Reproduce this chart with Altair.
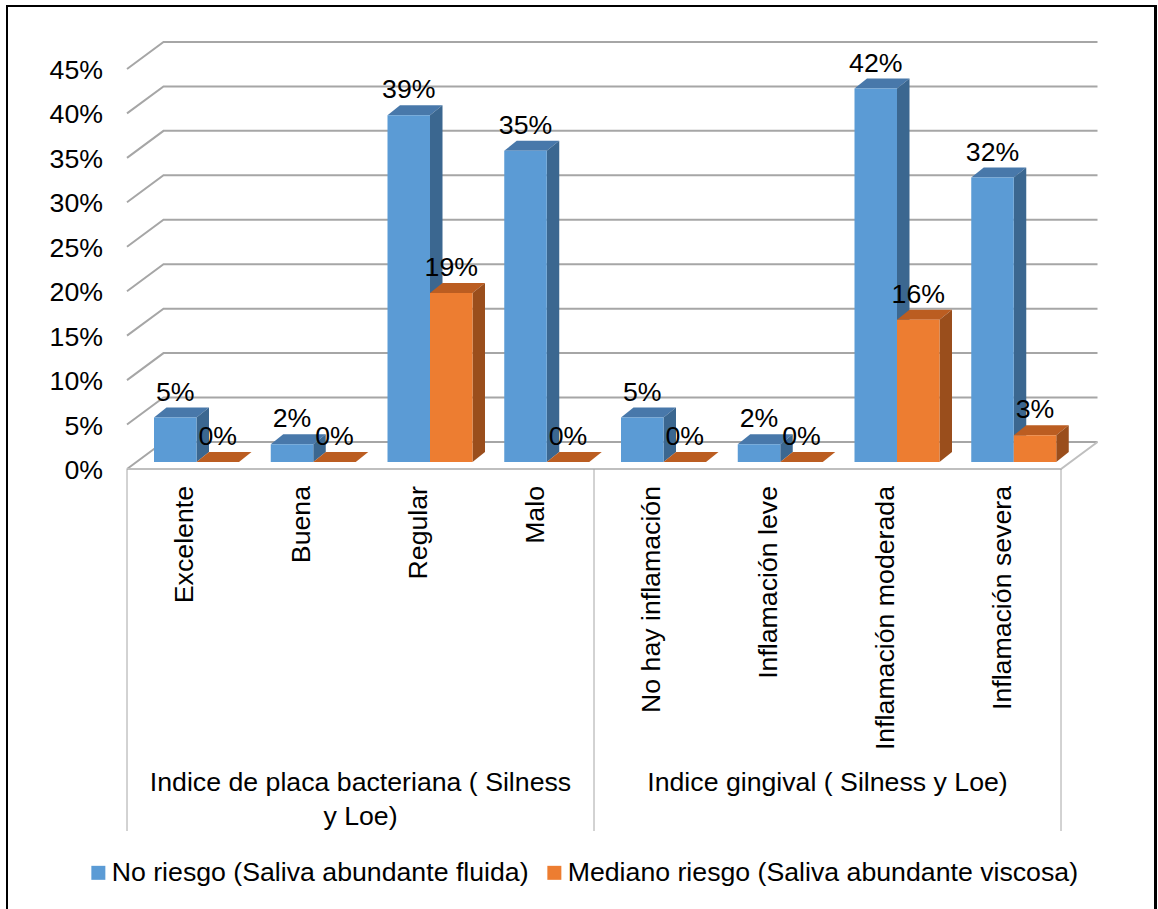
import altair as alt
import pandas as pd

# ---- chart data -------------------------------------------------------------
categories = [
    "Excelente", "Buena", "Regular", "Malo",
    "No hay inflamación", "Inflamación leve",
    "Inflamación moderada", "Inflamación severa",
]
group_names = [
    "Indice de placa bacteriana ( Silness\ny Loe)",
    "Indice gingival ( Silness y Loe)",
]
group_sizes = [4, 4]
series_names = [
    "No riesgo (Saliva abundante fluida)",
    "Mediano riesgo (Saliva abundante viscosa)",
]
no_riesgo = [5, 2, 39, 35, 5, 2, 42, 32]
mediano_riesgo = [0, 0, 19, 0, 0, 0, 16, 3]
tick_values = [0, 5, 10, 15, 20, 25, 30, 35, 40, 45]

# ---- layout (pixels) ---------------------------------------------------------
W, H = 1158, 909
FLOOR_X, FLOOR_Y = 127, 469      # front-left corner of the floor
SLOT_PX = 116.75                 # width of one category slot
PX_PER_PCT = 8.89                # vertical pixels per percentage point
FLOOR_DEPTH = (36.5, 27)         # oblique depth of the floor / walls
BAR_DEPTH = (12.5, 10)           # oblique depth of each bar
BAR_LIFT = 7                     # bar front face sits this far above floor edge
BAR_MARGIN = 27                  # gap from slot start to first bar
BAR_W = 42.5

FONT = "Liberation Sans"
FS = 26.7

FRONT = ["#5B9BD5", "#ED7D31"]
TOP = ["#4878AA", "#BB5D21"]
SIDE = ["#3B6790", "#9A4E1C"]
GRID = "#A6A6A6"


def ux(px):
    return px / SLOT_PX


def uy(px):
    return px / PX_PER_PCT


n_cat = len(categories)
fdx, fdy = ux(FLOOR_DEPTH[0]), uy(FLOOR_DEPTH[1])
bdx, bdy = ux(BAR_DEPTH[0]), uy(BAR_DEPTH[1])

x_scale = alt.Scale(domain=[-ux(FLOOR_X), ux(W - FLOOR_X)], nice=False, zero=False)
y_scale = alt.Scale(domain=[-uy(H - FLOOR_Y), uy(FLOOR_Y)], nice=False, zero=False)


def X(field):
    return alt.X(field, type="quantitative", scale=x_scale, axis=None)


def Y(field):
    return alt.Y(field, type="quantitative", scale=y_scale, axis=None)


# ---- gridlines: front diagonal + back wall line for each tick ---------------
grid_rows = []
for t in tick_values:
    pts = [(0, t), (fdx, t + fdy), (n_cat + fdx, t + fdy)]
    for k, (px, py) in enumerate(pts):
        grid_rows.append({"tick": t, "k": k, "x": px, "y": py})
grid_df = pd.DataFrame(grid_rows)

floor_rows = []
for k, (px, py) in enumerate([(0, 0), (n_cat, 0), (n_cat + fdx, fdy)]):
    floor_rows.append({"k": k, "x": px, "y": py})
floor_df = pd.DataFrame(floor_rows)

grid = alt.Chart(grid_df).mark_line(color=GRID, strokeWidth=2).encode(
    x=X("x"), y=Y("y"), detail="tick:N", order="k:Q"
)
floor = alt.Chart(floor_df).mark_line(color="#BFBFBF", strokeWidth=2).encode(
    x=X("x"), y=Y("y"), order="k:Q"
)

# ---- bars --------------------------------------------------------------------
front_rows, top_rows, side_rows, label_rows = [], [], [], []
for s, values in enumerate([no_riesgo, mediano_riesgo]):
    for i, v in enumerate(values):
        bar = f"{s}-{i}"
        x1 = i + ux(BAR_MARGIN + s * BAR_W)
        x2 = x1 + ux(BAR_W)
        y0 = uy(BAR_LIFT)
        y1 = y0 + v
        front_rows.append({"series": series_names[s], "s": s, "x1": x1, "x2": x2,
                           "y0": y0, "y1": y1})
        top_rows += [
            {"bar": bar, "s": s, "y": y1, "xa": x1, "xb": x2},
            {"bar": bar, "s": s, "y": y1 + bdy, "xa": x1 + bdx, "xb": x2 + bdx},
        ]
        side_rows += [
            {"bar": bar, "s": s, "x": x2, "ya": y0, "yb": y1},
            {"bar": bar, "s": s, "x": x2 + bdx, "ya": y0 + bdy, "yb": y1 + bdy},
        ]
        label_rows.append({"x": (x1 + x2) / 2, "y": y1 + bdy + uy(7),
                           "text": f"{v}%"})

front_df = pd.DataFrame(front_rows)
top_df = pd.DataFrame(top_rows)
side_df = pd.DataFrame(side_rows)

bar_layers = []
for s in range(2):
    tops = alt.Chart(top_df[top_df.s == s]).mark_area(
        orient="horizontal", color=TOP[s]
    ).encode(y=Y("y"), x=X("xa"), x2="xb", detail="bar:N")
    sides = alt.Chart(side_df[side_df.s == s]).mark_area(
        orient="vertical", color=SIDE[s]
    ).encode(x=X("x"), y=Y("ya"), y2="yb", detail="bar:N")
    fronts = alt.Chart(front_df[front_df.s == s]).mark_rect().encode(
        x=X("x1"), x2="x2", y=Y("y0"), y2="y1",
        color=alt.Color(
            "series:N",
            scale=alt.Scale(domain=series_names, range=FRONT),
            legend=alt.Legend(
                title=None, orient="none", legendX=85, legendY=859,
                direction="horizontal", symbolType="square", symbolSize=196,
                symbolStrokeWidth=0, symbolOpacity=1,
                labelFont=FONT, labelFontSize=FS, labelColor="black",
                labelOffset=0, columnPadding=12, labelLimit=1000, padding=0,
            ),
        ),
    )
    bar_layers += [tops, sides, fronts]

value_labels = alt.Chart(pd.DataFrame(label_rows)).mark_text(
    font=FONT, fontSize=FS, color="black", align="center", baseline="alphabetic"
).encode(x=X("x"), y=Y("y"), text="text:N")

# ---- value axis labels ------------------------------------------------------
tick_df = pd.DataFrame({"y": tick_values, "text": [f"{t}%" for t in tick_values]})
tick_df["x"] = -ux(24)
tick_labels = alt.Chart(tick_df).mark_text(
    font=FONT, fontSize=FS, color="black", align="right", baseline="middle", dy=2
).encode(x=X("x"), y=Y("y"), text="text:N")

# ---- category axis: labels, group labels, separators ------------------------
cat_df = pd.DataFrame({"x": [i + 0.5 for i in range(n_cat)], "text": categories})
cat_df["y"] = -uy(17)
cat_labels = alt.Chart(cat_df).mark_text(
    font=FONT, fontSize=FS, color="black", angle=270, align="right", baseline="middle"
).encode(x=X("x"), y=Y("y"), text="text:N")

bounds = [0]
for g in group_sizes:
    bounds.append(bounds[-1] + g)
grp_df = pd.DataFrame({
    "x": [(bounds[j] + bounds[j + 1]) / 2 for j in range(len(group_names))],
    "text": group_names,
})
grp_df["y"] = -uy(301)
grp_labels = alt.Chart(grp_df).mark_text(
    font=FONT, fontSize=FS, color="black", align="center", baseline="top",
    lineBreak="\n", lineHeight=34,
).encode(x=X("x"), y=Y("y"), text="text:N")

sep_df = pd.DataFrame({"x": bounds})
sep_df["y"] = 0.0
sep_df["y2"] = -uy(362)
separators = alt.Chart(sep_df).mark_rule(color="#A6A6A6", strokeWidth=1).encode(
    x=X("x"), y=Y("y"), y2="y2"
)

# ---- outer frame ------------------------------------------------------------
frame_left = alt.Chart(pd.DataFrame({"a": [0]})).mark_rule(color="black", strokeWidth=2).encode(
    x=alt.value(7), y=alt.value(5), y2=alt.value(H))
frame_top = alt.Chart(pd.DataFrame({"a": [0]})).mark_rule(color="black", strokeWidth=2).encode(
    x=alt.value(6), x2=alt.value(1157), y=alt.value(6))
frame_right = alt.Chart(pd.DataFrame({"a": [0]})).mark_rule(color="black", strokeWidth=3).encode(
    x=alt.value(1155.5), y=alt.value(5), y2=alt.value(H))

chart = alt.layer(
    grid, floor, separators, *bar_layers, value_labels, tick_labels,
    cat_labels, grp_labels, frame_left, frame_top, frame_right,
).properties(
    width=W, height=H, padding=0, autosize="none", background="white"
).configure_view(stroke=None)

chart.save("out.html", embed_options={"renderer": "svg", "actions": False})
